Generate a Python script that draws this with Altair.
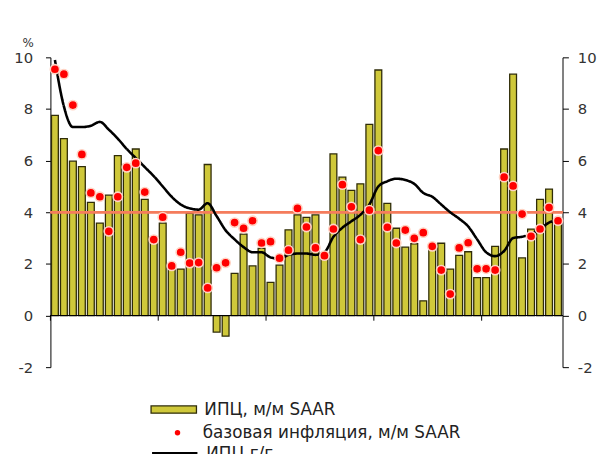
import altair as alt
import pandas as pd

# ---- data (Jan 2016 .. Sep 2020, monthly) ----
cpi_mm = [7.75, 6.85, 5.98, 5.77, 4.38, 3.58, 4.66, 6.19, 5.85, 6.45, 4.5, 2.8,
          3.58, 1.8, 1.8, 3.96, 3.9, 5.85, -0.64, -0.8, 1.63, 3.15, 1.92, 2.6,
          1.28, 1.95, 3.32, 3.9, 3.8, 3.9, 2.25, 6.26, 5.36, 4.85, 5.1, 7.4,
          9.51, 4.34, 3.38, 2.65, 2.78, 0.57, 2.7, 2.8, 1.8, 2.33, 2.47, 1.47,
          1.47, 2.68, 6.45, 9.35, 2.23, 3.35, 4.5, 4.9, 3.7]
core_mm = [9.54, 9.35, 8.15, 6.24, 4.75, 4.6, 3.26, 4.6, 5.74, 5.9, 4.78, 2.94,
           3.81, 1.92, 2.45, 2.03, 2.05, 1.07, 1.85, 2.04, 3.6, 3.38, 3.67, 2.81,
           2.86, 2.22, 2.53, 4.15, 3.43, 2.62, 2.32, 3.35, 5.07, 4.21, 2.94, 4.08,
           6.39, 3.42, 2.81, 3.31, 2.99, 3.21, 2.68, 1.76, 0.83, 2.62, 2.82, 1.81,
           1.81, 1.76, 5.36, 5.02, 3.93, 3.07, 3.35, 4.18, 3.67]
cpi_yy = [9.9, 8.1, 7.3, 7.3, 7.35, 7.5, 7.2, 6.85, 6.45, 6.1, 5.75, 5.4,
          5.0, 4.6, 4.3, 4.15, 4.1, 4.35, 3.85, 3.3, 2.95, 2.65, 2.45, 2.45,
          2.25, 2.2, 2.35, 2.4, 2.4, 2.35, 2.45, 3.05, 3.4, 3.65, 3.9, 4.3,
          5.0, 5.2, 5.3, 5.25, 5.1, 4.75, 4.6, 4.3, 4.0, 3.75, 3.45, 2.95,
          2.45, 2.3, 2.5, 3.0, 3.05, 3.15, 3.35, 3.6, 3.7]
target_level = 4
year_starts = [0, 12, 24, 36, 48]
tick_labels = ["янв.16", "янв.17", "янв.18", "янв.19", "янв.20"]
y_ticks = [-2, 0, 2, 4, 6, 8, 10]

s_bar = "ИПЦ, м/м SAAR"
s_dot = "базовая инфляция, м/м SAAR"
s_line = "ИПЦ г/г"

n = len(cpi_mm)
df = pd.DataFrame({
    "i": list(range(n)),
    "cpi_mm": cpi_mm,
    "core_mm": core_mm,
    "cpi_yy": cpi_yy,
})
df["x0"] = df["i"] + 0.12
df["x1"] = df["i"] + 0.88
df["xc"] = df["i"] + 0.5
df["s_bar"] = s_bar
df["s_dot"] = s_dot
df["s_line"] = s_line
ticks_df = pd.DataFrame({"b": year_starts})

FONT = "DejaVu Sans"
TXT = "#333333"

xscale = alt.Scale(domain=[0, n], nice=False, zero=False)
yscale = alt.Scale(domain=[-2, 10], nice=False, zero=False)

label_arr = "[" + ",".join("'%s'" % t for t in tick_labels) + "]"
x_axis = alt.Axis(values=year_starts, labelExpr=label_arr + "[round(datum.value/12)]",
                  domain=False, ticks=False, tickSize=0, grid=False, title=None,
                  labelFlush=False, labelOverlap=False, labelBound=False,
                  labelOffset=4.5, labelBaseline="middle", labelPadding=24,
                  labelFont=FONT, labelFontSize=15, labelColor=TXT)

left_axis = alt.Axis(values=y_ticks, grid=False, domainColor="black", tickColor="black",
                     tickSize=5, labelPadding=13, labelFont=FONT, labelFontSize=15,
                     labelColor=TXT, labelExpr="'' + datum.value",
                     title="%", titleAngle=0, titleX=-23, titleY=-15,
                     titleAlign="center", titleBaseline="middle", titleFont=FONT,
                     titleFontSize=12, titleFontWeight="normal", titleColor=TXT)
right_axis = alt.Axis(values=y_ticks, orient="right", grid=False, domainColor="black",
                      tickColor="black", tickSize=6, labelPadding=9, labelFont=FONT,
                      labelFontSize=15, labelColor=TXT, labelExpr="'' + datum.value",
                      title=None)

BAR_FILL = "#cfc83a"
BAR_STROKE = "#2f2c08"

bars = alt.Chart(df).mark_bar(stroke=BAR_STROKE, strokeWidth=1.3).encode(
    x=alt.X("x0:Q", scale=xscale, axis=x_axis),
    x2="x1:Q",
    y=alt.Y("cpi_mm:Q", scale=yscale, axis=left_axis),
    y2=alt.datum(0),
    fill=alt.Fill("s_bar:N", scale=alt.Scale(range=[BAR_FILL]),
                  legend=alt.Legend(title=None, orient="none", legendX=101, legendY=333,
                                    padding=0, symbolType="M-1,-0.16H1V0.16H-1Z",
                                    symbolSize=2116, symbolStrokeColor=BAR_STROKE,
                                    symbolStrokeWidth=1.3, labelFont=FONT,
                                    labelFontSize=17, labelColor="#222222",
                                    labelOffset=7, labelLimit=400)),
)

zero_line = alt.Chart(ticks_df).mark_rule(color="black", strokeWidth=1).encode(
    y=alt.YDatum(0, type="quantitative", scale=yscale, axis=None),
)

year_ticks = alt.Chart(ticks_df).mark_rule(color="black", strokeWidth=1).encode(
    x=alt.X("b:Q", scale=xscale, axis=None),
    y=alt.YDatum(0, type="quantitative", scale=yscale, axis=None),
    y2=alt.datum(-0.2),
)

target = alt.Chart(ticks_df).mark_rule(color="#f47c5c", strokeWidth=2.2).encode(
    y=alt.YDatum(target_level, type="quantitative", scale=yscale, axis=None),
)

line = alt.Chart(df).mark_line(color="black", strokeWidth=2.6, interpolate="monotone").encode(
    x=alt.X("xc:Q", scale=xscale, axis=None),
    y=alt.Y("cpi_yy:Q", scale=yscale, axis=right_axis),
    strokeDash=alt.StrokeDash("s_line:N", scale=alt.Scale(range=[[1, 0]]),
                              legend=alt.Legend(title=None, orient="none", legendX=101,
                                                legendY=377, padding=0, symbolType="stroke",
                                                symbolSize=2116, symbolStrokeColor="black",
                                                symbolStrokeWidth=4, labelFont=FONT,
                                                labelFontSize=17, labelColor="#222222",
                                                labelOffset=7, labelLimit=400)),
)

points = alt.Chart(df).mark_point(filled=True, color="#ff0000", stroke="#ffd4c4",
                                  strokeWidth=1.6, size=88, opacity=1).encode(
    x=alt.X("xc:Q", scale=xscale, axis=None),
    y=alt.Y("core_mm:Q", scale=yscale, axis=None),
    shape=alt.Shape("s_dot:N", scale=alt.Scale(range=["circle"]),
                    legend=alt.Legend(title=None, orient="none", legendX=120.3,
                                      legendY=372, padding=0, symbolSize=30,
                                      symbolFillColor="#ff0000", symbolStrokeWidth=0,
                                      labelFont=FONT, labelFontSize=17,
                                      labelColor="#222222", labelOffset=17,
                                      labelLimit=400)),
)

chart = alt.layer(bars, zero_line, year_ticks, target, line, points).resolve_scale(
    y="independent"
).properties(
    width=519,
    height=314,
    autosize=alt.AutoSizeParams(type="none"),
    padding={"left": 43, "top": 47, "right": 38, "bottom": 85},
    background="white",
).configure_view(stroke=None)

chart.save("out.html", embed_options={"renderer": "svg", "actions": False})
